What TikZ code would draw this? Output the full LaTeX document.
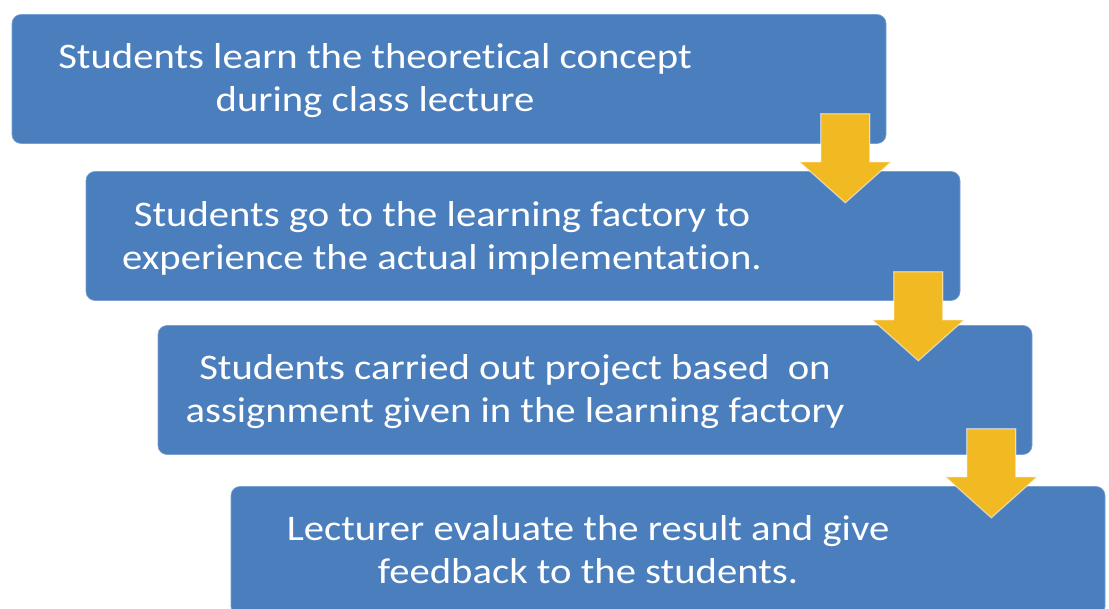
\documentclass[tikz,border=0pt]{standalone}
\usepackage{fontspec}
\setmainfont{Carlito}[FakeStretch=1.13,Ligatures=NoCommon,RawFeature=-liga]
\usetikzlibrary{calc}
\definecolor{boxblue}{RGB}{74,126,189}
\definecolor{boxedge}{RGB}{120,160,210}
\definecolor{arrowyellow}{RGB}{242,186,34}
\tikzset{
  stepbox/.style={rectangle, rounded corners=9pt, fill=boxblue, draw=boxedge, line width=0.6pt,
    minimum width=874pt, minimum height=129pt, inner sep=0pt},
  steptext/.style={align=center, text=white, font=\fontsize{36}{43}\selectfont, inner sep=0pt},
  arrowshape/.style={fill=arrowyellow, draw=white, draw opacity=0.55, line width=1.2pt, line join=miter},
  downarrow/.pic={\path[arrowshape] (-24.5,0) -- (24.5,0) -- (24.5,48) -- (46,48) -- (0,89) -- (-46,48) -- (-24.5,48) -- cycle;}
}
\begin{document}
\begin{tikzpicture}[x=1pt,y=-1pt]
\useasboundingbox (0,0) rectangle (1109,609);
\node[stepbox] (b1) at (449,79) {};
\node[steptext] (t1) at ($(b1.center)+(-74,2)$) {Students learn the theoretical concept\\during class lecture};
\node[stepbox] (b2) at (523,236) {};
\node[steptext] (t2) at ($(b2.center)+(-81,2)$) {Students go to the learning factory to\\experience the actual implementation.};
\pic at ($(b1.south east)+(-41,-30)$) {downarrow};
\node[stepbox] (b3) at (595,390) {};
\node[steptext] (t3) at ($(b3.center)+(-80,2)$) {Students carried out project based\ \ on\\assignment given in the learning factory};
\pic at ($(b2.south east)+(-42,-29)$) {downarrow};
\node[stepbox] (b4) at (668,551) {};
\node[steptext] (t4) at ($(b4.center)+(-80,-1)$) {Lecturer evaluate the result and give\\feedback to the students.};
\pic at ($(b3.south east)+(-41,-26)$) {downarrow};
\end{tikzpicture}
\end{document}
